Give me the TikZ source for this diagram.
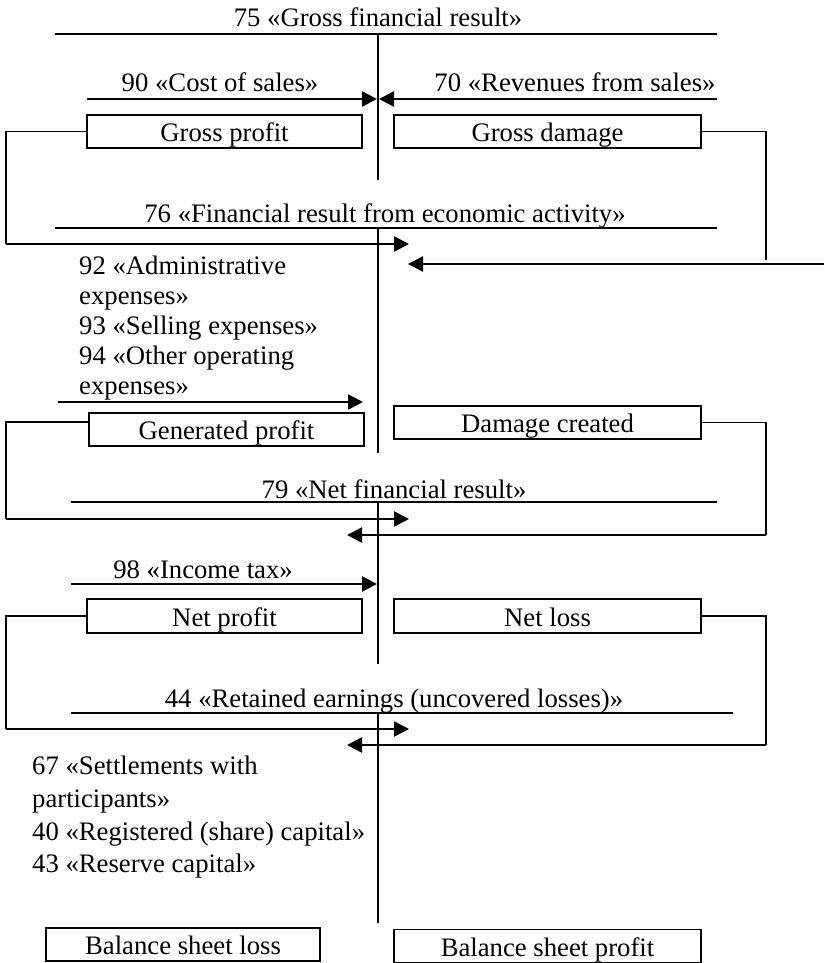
\documentclass[tikz,border=0pt]{standalone}
\usepackage{fontspec}
\setmainfont{Liberation Serif}
\usetikzlibrary{arrows.meta}

\begin{document}
\begin{tikzpicture}[x=1pt, y=-1pt,
    acct/.style={anchor=base, inner sep=0pt, font=\fontsize{26.7}{30}\selectfont},
    lst/.style={anchor=north west, inner sep=0pt, align=left},
    box/.style={draw, line width=1.6pt, inner sep=0pt, minimum height=33pt,
                text height=22pt, text depth=2pt, font=\fontsize{26.7}{30}\selectfont},
    lbox/.style={box, minimum width=275pt},
    rbox/.style={box, minimum width=307pt},
    tline/.style={line width=1.3pt},
    conn/.style={line width=1.4pt},
    flow/.style={line width=2.4pt, -{Triangle[length=15pt,width=15pt]}}]
  \useasboundingbox (0,0) rectangle (824,963);
  % T-accounts
  \draw[tline] (55,34)--(717,34);  \draw[tline] (378,34)--(378,180);
  \draw[tline] (55,228)--(717,228); \draw[tline] (378,228)--(378,453);
  \draw[tline] (71,502)--(717,502); \draw[tline] (378,502)--(378,664);
  \draw[tline] (71,713)--(733,713); \draw[tline] (378,713)--(378,923);
  \node[acct] (t75) at (378,27)  {75 «Gross financial result»};
  \node[acct] (t90) at (220,92)  {90 «Cost of sales»};
  \node[acct] (t70) at (575,92)  {70 «Revenues from sales»};
  \node[acct] (t76) at (385,222) {76 «Financial result from economic activity»};
  \node[acct] (t79) at (394,498) {79 «Net financial result»};
  \node[acct] (t98) at (203,578) {98 «Income tax»};
  \node[acct] (t44) at (394,707) {44 «Retained earnings (uncovered losses)»};
  \node[lst, font=\fontsize{26.7}{30}\selectfont] (l9x) at (79,256)
    {92 «Administrative\\expenses»\\93 «Selling expenses»\\94 «Other operating\\expenses»};
  \node[lst, font=\fontsize{26.7}{32.7}\selectfont] (l4x) at (32,756)
    {67 «Settlements with\\participants»\\40 «Registered (share) capital»\\43 «Reserve capital»};
  % results
  \node[lbox] (gp)   at (224.5,131.5) {Gross profit};
  \node[rbox] (gd)   at (547.5,131.5) {Gross damage};
  \node[lbox] (genp) at (226.5,429.5) {Generated profit};
  \node[rbox] (dmg)  at (547.5,422.5) {Damage created};
  \node[lbox, minimum height=34pt] (np) at (224.5,616) {Net profit};
  \node[rbox, minimum height=34pt] (nl) at (547.5,616) {Net loss};
  \node[box, minimum width=274pt] (bsl) at (183,944.5) {Balance sheet loss};
  \node[rbox] (bsp)  at (547.5,946) {Balance sheet profit};
  % flows
  \coordinate (s90) at (87,99);   \coordinate (e90) at (377,99);
  \coordinate (s70) at (717,99);  \coordinate (e70) at (379,99);
  \coordinate (s9x) at (58,402);  \coordinate (e9x) at (363,402);
  \coordinate (s98) at (71,584);  \coordinate (e98) at (377,584);
  \draw[flow] (s90)--(e90); \draw[flow] (s70)--(e70);
  \draw[flow] (s9x)--(e9x); \draw[flow] (s98)--(e98);
  \coordinate (c1) at (6,244);   \coordinate (a1) at (409,244);
  \coordinate (c2) at (766,260); \coordinate (s2) at (824,264); \coordinate (a2) at (408,264);
  \coordinate (c3) at (6,519);   \coordinate (a3) at (409,519);
  \coordinate (c4) at (766,535); \coordinate (a4) at (347,535);
  \coordinate (c5) at (6,729);   \coordinate (a5) at (409,729);
  \coordinate (c6) at (766,745); \coordinate (a6) at (347,745);
  \draw[conn] (gp.west) -| (c1);  \draw[flow] (c1)--(a1);
  \draw[conn] (gd.east) -| (c2);  \draw[flow] (s2)--(a2);
  \draw[conn] ([yshift=7.5pt]genp.west) -| (c3); \draw[flow] (c3)--(a3);
  \draw[conn] (dmg.east) -| (c4); \draw[flow] (c4)--(a4);
  \draw[conn] (np.west) -| (c5);  \draw[flow] (c5)--(a5);
  \draw[conn] (nl.east) -| (c6);  \draw[flow] (c6)--(a6);
\end{tikzpicture}
\end{document}
